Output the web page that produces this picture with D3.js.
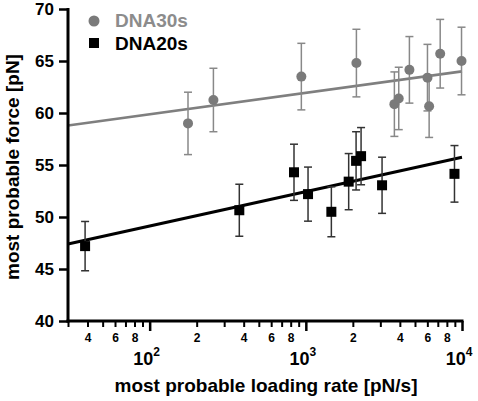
<!DOCTYPE html>
<html>
<head>
<meta charset="utf-8">
<script src="https://cdn.jsdelivr.net/npm/d3@7"></script>
<style>
html,body{margin:0;padding:0;background:#fff;}
svg{display:block;font-family:"Liberation Sans",Arial,sans-serif;font-weight:bold;}
</style>
</head>
<body>
<svg id="chart" width="478" height="401"></svg>
<script>
// DNA30s (gray circles)
const rate30 = [176, 256, 936, 2108, 3690, 3935, 4605, 6010, 6160, 7250, 9930];
const force30 = [59.0, 61.25, 63.5, 64.8, 60.85, 61.4, 64.15, 63.4, 60.65, 65.7, 65.0];
const err30 = [3.0, 3.05, 3.2, 3.25, 3.1, 3.0, 3.2, 3.2, 3.0, 3.3, 3.25];
const fit30 = [[30, 58.8], [10000, 64.0]];

// DNA20s (black squares)
const rate20 = [38.6, 375, 840, 1033, 1457, 1881, 2098, 2258, 3077, 8950];
const force20 = [47.2, 50.65, 54.3, 52.2, 50.5, 53.4, 55.4, 55.85, 53.05, 54.15];
const err20 = [2.37, 2.5, 2.7, 2.6, 2.4, 2.7, 2.8, 2.75, 2.7, 2.72];
const fit20 = [[30, 47.4], [10000, 55.75]];

const yTicks = [40, 45, 50, 55, 60, 65, 70];
const xMajor = [100, 1000, 10000];
const xMinor = [30,40,50,60,70,80,90,200,300,400,500,600,700,800,900,2000,3000,4000,5000,6000,7000,8000,9000];
const xMinorLabels = [40,60,80,200,400,600,800,2000,4000,6000,8000];

const svg = d3.select("#chart");
const x = d3.scaleLog().domain([30, 10000]).range([68, 462]);
const y = d3.scaleLinear().domain([40, 70]).range([321, 9]);

const gray = "#7a7a7a";

// fit lines
const line = d3.line().x(d => x(d[0])).y(d => y(d[1]));
svg.append("path").attr("d", line(fit30)).attr("stroke", "#7f7f7f").attr("stroke-width", 2.6).attr("fill", "none");
svg.append("path").attr("d", line(fit20)).attr("stroke", "#000").attr("stroke-width", 3).attr("fill", "none");

function errorBars(rates, forces, errs, color) {
  const g = svg.append("g").attr("stroke", color).attr("stroke-width", 1.5).attr("fill", "none");
  rates.forEach((r, i) => {
    const cx = x(r), top = y(forces[i] + errs[i]), bot = y(forces[i] - errs[i]);
    g.append("line").attr("x1", cx).attr("x2", cx).attr("y1", top).attr("y2", bot);
    g.append("line").attr("x1", cx - 4).attr("x2", cx + 4).attr("y1", top).attr("y2", top);
    g.append("line").attr("x1", cx - 4).attr("x2", cx + 4).attr("y1", bot).attr("y2", bot);
  });
}
errorBars(rate30, force30, err30, "#888");
errorBars(rate20, force20, err20, "#333");

svg.append("g").selectAll("circle").data(rate30).join("circle")
  .attr("cx", d => x(d)).attr("cy", (d, i) => y(force30[i])).attr("r", 5).attr("fill", gray);
svg.append("g").selectAll("rect").data(rate20).join("rect")
  .attr("x", d => x(d) - 5).attr("y", (d, i) => y(force20[i]) - 5).attr("width", 10).attr("height", 10).attr("fill", "#000");

// Y axis
const yAxis = svg.append("g").attr("transform", "translate(68,0)")
  .call(d3.axisLeft(y).tickValues(yTicks).tickSize(9).tickPadding(5).tickFormat(d3.format("d")));
yAxis.select(".domain").attr("stroke-width", 3).attr("d", "M0,8V322.5");
yAxis.selectAll(".tick line").attr("stroke-width", 2.5);
yAxis.selectAll("text").attr("font-size", 17).attr("font-weight", "bold").attr("fill", "#000")
  .attr("font-family", "Liberation Sans, Arial, sans-serif");

// X axis minor
const xMinorAxis = svg.append("g").attr("transform", "translate(0,321)")
  .call(d3.axisBottom(x).tickValues(xMinor).tickSize(6).tickPadding(6)
    .tickFormat(d => xMinorLabels.includes(d) ? String(d / Math.pow(10, Math.floor(Math.log10(d) + 1e-9))) : ""));
xMinorAxis.select(".domain").attr("stroke-width", 3).attr("d", "M66.5,0H463.5");
xMinorAxis.selectAll(".tick line").attr("stroke-width", 2);
xMinorAxis.selectAll("text").attr("font-size", 12).attr("font-weight", "bold").attr("fill", "#000")
  .attr("font-family", "Liberation Sans, Arial, sans-serif");

// X axis major
const xMajorAxis = svg.append("g").attr("transform", "translate(0,321)")
  .call(d3.axisBottom(x).tickValues(xMajor).tickSize(10).tickFormat(""));
xMajorAxis.select(".domain").remove();
xMajorAxis.selectAll(".tick line").attr("stroke-width", 2.5);

// decade labels
const dl = svg.append("g").selectAll("text").data(xMajor).join("text")
  .attr("x", d => x(d) - 3).attr("y", 365).attr("text-anchor", "middle")
  .attr("font-size", 18).attr("fill", "#000");
dl.append("tspan").text("10");
dl.append("tspan").attr("dy", -9).attr("font-size", 12).text(d => Math.round(Math.log10(d)));

// axis titles
svg.append("text").attr("x", 266).attr("y", 392).attr("text-anchor", "middle")
  .attr("font-size", 19).attr("fill", "#000").text("most probable loading rate [pN/s]");
svg.append("text").attr("transform", "translate(19,167) rotate(-90)").attr("text-anchor", "middle")
  .attr("font-size", 19).attr("fill", "#000").text("most probable force [pN]");

// legend
svg.append("circle").attr("cx", 94).attr("cy", 21).attr("r", 5.5).attr("fill", gray);
svg.append("text").attr("x", 115).attr("y", 27).attr("font-size", 19).attr("fill", "#8c8c8c").text("DNA30s");
svg.append("rect").attr("x", 89).attr("y", 38).attr("width", 10).attr("height", 10).attr("fill", "#000");
svg.append("text").attr("x", 115).attr("y", 50).attr("font-size", 19).attr("fill", "#000").text("DNA20s");
</script>
</body>
</html>
